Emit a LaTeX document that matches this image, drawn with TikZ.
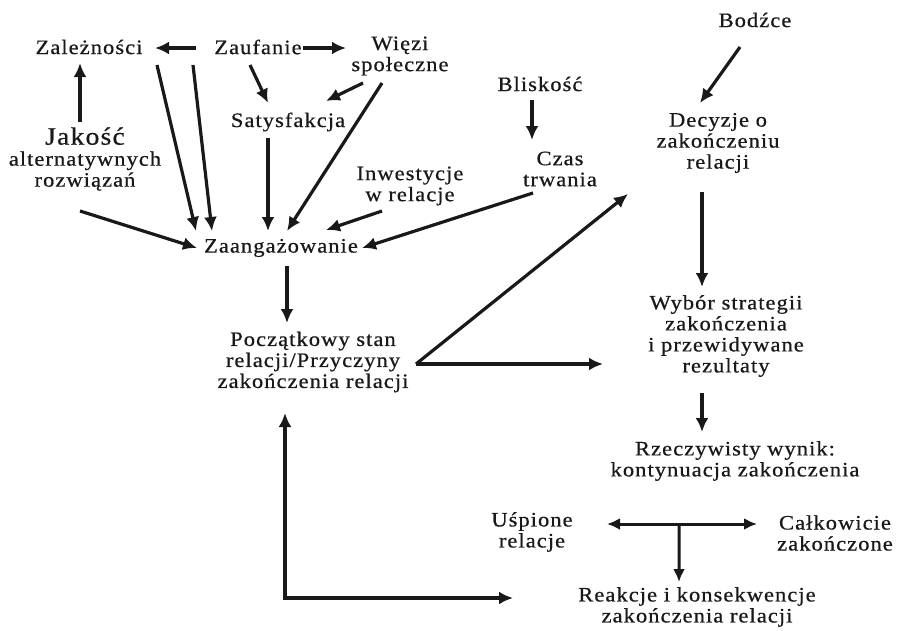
\documentclass[tikz,border=0pt]{standalone}
\usepackage{fontspec}
\setmainfont{Liberation Serif}[FakeStretch=1.1,LetterSpace=5,FakeBold=0.6]
\usetikzlibrary{arrows.meta,positioning}

\tikzset{
    lbl/.style={align=center, inner sep=0pt, font=\fontsize{20.5}{21}\selectfont},
    arrow/.style={line width=3.2pt, ->, >={Latex[length=14pt,width=13pt]}},
    tarrow/.style={line width=3pt, >={Latex[length=13pt,width=12pt]}}
}

\begin{document}
\begin{tikzpicture}[x=1pt, y=-1pt, color={black!90}]
    \useasboundingbox (0,0) rectangle (900,630);

    % left part
    \node[lbl] (dependence) at (89,47) {Zależności};
    \node[lbl] (trust) at (258,47) {Zaufanie};
    \node[lbl] (ties) at (400,56) {Więzi\\społeczne};
    \node[lbl] (satisfaction) at (288,122) {Satysfakcja};
    \node[lbl] (alternatives) at (85,159) {{\fontsize{25}{24}\selectfont Jakość}\\alternatywnych\\rozwiązań};
    \node[lbl] (investment) at (410,186) {Inwestycje\\w relacje};
    \node[lbl] (closeness) at (540,84) {Bliskość};
    \node[lbl] (duration) at (560,169) {Czas\\trwania};
    \node[lbl] (commitment) at (281,248) {Zaangażowanie};
    \node[lbl] (initial_state) at (313,362) {Początkowy stan\\relacji/Przyczyny\\zakończenia relacji};

    % right part
    \node[lbl] (stimuli) at (755,20) {Bodźce};
    \node[lbl] (decision) at (718,143) {Decyzje o\\zakończeniu\\relacji};
    \node[lbl] (strategy) at (726,336) {Wybór strategii\\zakończenia\\i przewidywane\\rezultaty};
    \node[lbl] (outcome) at (735,461) {Rzeczywisty wynik:\\kontynuacja zakończenia};
    \node[lbl] (dormant) at (532,532) {Uśpione\\relacje};
    \node[lbl] (terminated) at (835,533) {Całkowicie\\zakończone};
    \node[lbl] (reactions) at (697,607) {Reakcje i konsekwencje\\zakończenia relacji};

    \draw[arrow] ([shift={(-62,1)}]trust.center) -- ([shift={(66,1)}]dependence.center);
    \draw[arrow] ([shift={(45,1)}]trust.center) -- ([shift={(-54,-8)}]ties.center);
    \draw[arrow] ([shift={(-5,-37)}]alternatives.center) -- ([shift={(-9,16)}]dependence.center);
    \draw[arrow] ([shift={(68,18)}]dependence.center) -- ([shift={(-85,-17)}]commitment.center);
    \draw[arrow] ([shift={(104,18)}]dependence.center) -- ([shift={(-69,-17)}]commitment.center);
    \draw[arrow] ([shift={(-8,18)}]trust.center) -- ([shift={(-20,-19)}]satisfaction.center);
    \draw[arrow] ([shift={(-37,27)}]ties.center) -- ([shift={(38,-21)}]satisfaction.center);
    \draw[arrow] ([shift={(-18,27)}]ties.center) -- ([shift={(6,-17)}]commitment.center);
    \draw[arrow] ([shift={(-20,16)}]satisfaction.center) -- ([shift={(-13,-17)}]commitment.center);
    \draw[arrow] ([shift={(-5,52)}]alternatives.center) -- ([shift={(-84,0)}]commitment.center);
    \draw[arrow] ([shift={(-28,25)}]investment.center) -- ([shift={(45,-18)}]commitment.center);
    \draw[arrow] ([shift={(-27,24)}]duration.center) -- ([shift={(81,0)}]commitment.center);
    \draw[arrow] ([shift={(-8,16)}]closeness.center) -- ([shift={(-28,-29)}]duration.center);
    \draw[arrow] ([shift={(6,18)}]commitment.center) -- ([shift={(-26,-39)}]initial_state.center);

    \draw[arrow] ([shift={(-15,27)}]stimuli.center) -- ([shift={(-18,-40)}]decision.center);
    \draw[arrow] ([shift={(-16,49)}]decision.center) -- ([shift={(-24,-49)}]strategy.center);
    \draw[arrow] ([shift={(103,2)}]initial_state.center) -- ([shift={(-90,51)}]decision.center);
    \draw[arrow] ([shift={(103,2)}]initial_state.center) -- ([shift={(-123,28)}]strategy.center);
    \draw[arrow] ([shift={(-24,57)}]strategy.center) -- ([shift={(-33,-29)}]outcome.center);
    \draw[arrow, <->] ([shift={(-28,51)}]initial_state.center) |- ([shift={(-184,-9)}]reactions.center);

    \draw[tarrow, <->] ([shift={(75,-8)}]dormant.center) -- coordinate[pos=0.48] (split) ([shift={(-78,-9)}]terminated.center);
    \draw[tarrow, ->] (split) -- ([shift={(-18,-25)}]reactions.center);
\end{tikzpicture}
\end{document}
